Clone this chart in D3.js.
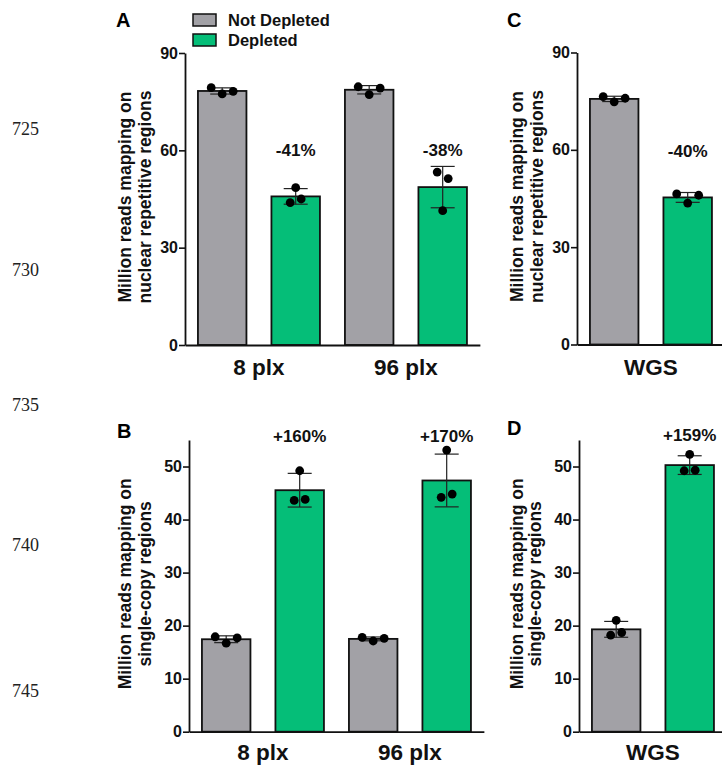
<!DOCTYPE html>
<html>
<head>
<meta charset="utf-8">
<script src="https://cdn.jsdelivr.net/npm/d3@7"></script>
<style>
html,body{margin:0;padding:0;background:#fff;}
svg{display:block;}
text{font-family:"Liberation Sans",Arial,sans-serif;}
</style>
</head>
<body>
<script>
// ---------------- data ----------------
const groupsAB = ["8 plx", "96 plx"];
const groupsCD = ["WGS"];
const seriesNames = ["Not Depleted", "Depleted"];
const seriesColors = ["#a2a1a6", "#05be78"];

// replicate values (million reads), listed left-to-right as drawn
const repNucAB_notDepleted = [[79.3, 77.4, 78.2], [79.6, 77.2, 79.2]];
const repNucAB_depleted    = [[48.5, 43.9, 45.0], [53.3, 51.3, 41.4]];
const repSingleAB_notDepleted = [[17.9, 16.7, 17.7], [17.8, 17.1, 17.6]];
const repSingleAB_depleted    = [[49.2, 43.6, 43.8], [53.1, 44.2, 44.8]];
const repNucCD_notDepleted = [[76.4, 74.8, 75.9]];
const repNucCD_depleted    = [[46.4, 43.6, 46.0]];
const repSingleCD_notDepleted = [[21.0, 18.2, 18.7]];
const repSingleCD_depleted    = [[52.3, 49.2, 49.3]];

const pctNucAB = ["-41%", "-38%"];
const pctSingleAB = ["+160%", "+170%"];
const pctNucCD = ["-40%"];
const pctSingleCD = ["+159%"];

const ticksNuc = [0, 30, 60, 90];
const ticksSingle = [0, 10, 20, 30, 40, 50];
const domainNuc = [0, 90];
const domainSingle = [0, 55];

const titleNuc = ["Million reads mapping on", "nuclear repetitive regions"];
const titleSingle = ["Million reads mapping on", "single-copy regions"];
const lineNumbers = ["725", "730", "735", "740", "745"];

// ---------------- drawing ----------------
const W = 722, H = 768;
const svg = d3.select("body").append("svg").attr("width", W).attr("height", H);

// manuscript line numbers
const lnY = [135, 276, 411, 551, 697];
svg.selectAll("text.ln").data(lineNumbers).join("text")
  .attr("class", "ln")
  .attr("x", 12).attr("y", (d, i) => lnY[i])
  .style("font-family", "'Liberation Serif','Times New Roman',serif")
  .style("font-size", "18px").attr("fill", "#222")
  .text(d => d);

function panel(cfg) {
  const g = svg.append("g");
  const n = cfg.groups.length;
  const step = 147;
  const y = d3.scaleLinear().domain(cfg.domain).range(cfg.yRange);
  const x0 = d3.scaleBand().domain(cfg.groups)
    .range([cfg.axisX, cfg.axisX + step * (n - 0.17 + 0.176)])
    .paddingInner(0.17).paddingOuter(0.088);
  const x1 = d3.scaleBand().domain(seriesNames).range([0, x0.bandwidth()]).paddingInner(0.34);

  const reps = [cfg.repNot, cfg.repDep];
  const bars = [];
  cfg.groups.forEach((grp, gi) => {
    seriesNames.forEach((s, si) => {
      const vals = reps[si][gi];
      bars.push({grp, s, si, vals, mean: d3.mean(vals), sd: d3.deviation(vals)});
    });
  });

  // bars
  g.selectAll("rect.bar").data(bars).join("rect")
    .attr("x", d => x0(d.grp) + x1(d.s))
    .attr("y", d => y(d.mean))
    .attr("width", x1.bandwidth())
    .attr("height", d => y(0) - y(d.mean))
    .attr("fill", d => seriesColors[d.si])
    .attr("stroke", "#111").attr("stroke-width", 1.8);

  // error bars (mean ± SD)
  const cx = d => x0(d.grp) + x1(d.s) + x1.bandwidth() / 2;
  const eb = g.selectAll("g.eb").data(bars).join("g").attr("stroke", "#222").attr("stroke-width", 1.2);
  eb.append("line").attr("x1", cx).attr("x2", cx)
    .attr("y1", d => y(d.mean - d.sd)).attr("y2", d => y(d.mean + d.sd));
  eb.append("line").attr("x1", d => cx(d) - 12).attr("x2", d => cx(d) + 12)
    .attr("y1", d => y(d.mean + d.sd)).attr("y2", d => y(d.mean + d.sd));
  eb.append("line").attr("x1", d => cx(d) - 12).attr("x2", d => cx(d) + 12)
    .attr("y1", d => y(d.mean - d.sd)).attr("y2", d => y(d.mean - d.sd));

  // scatter points, spread horizontally where they would overlap
  const pts = [];
  bars.forEach(b => {
    const py = b.vals.map(v => y(v));
    const parent = b.vals.map((v, i) => i);
    const find = i => parent[i] === i ? i : (parent[i] = find(parent[i]));
    for (let i = 0; i < py.length; i++)
      for (let j = i + 1; j < py.length; j++)
        if (Math.abs(py[i] - py[j]) < 9.5) parent[find(i)] = find(j);
    const clusters = d3.group(b.vals.map((v, i) => i), i => find(i));
    clusters.forEach(members => {
      const k = members.length;
      members.forEach((i, m) => {
        pts.push({x: cx(b) + (m - (k - 1) / 2) * 11, y: py[i]});
      });
    });
  });
  g.selectAll("circle.pt").data(pts).join("circle")
    .attr("cx", d => d.x).attr("cy", d => d.y).attr("r", 4.4).attr("fill", "#000");

  // y axis
  const yAxis = d3.axisLeft(y).tickValues(cfg.ticks).tickSize(6).tickPadding(1).tickSizeOuter(0);
  const ya = g.append("g").attr("transform", `translate(${cfg.axisX},0)`).call(yAxis);
  ya.select(".domain").attr("stroke", "#111").attr("stroke-width", 1.8);
  ya.selectAll(".tick line").attr("stroke", "#111").attr("stroke-width", 1.6);
  ya.selectAll(".tick text").style("font-size", "16px").style("font-weight", "bold")
    .attr("fill", "#111").style("font-family", "'Liberation Sans',Arial,sans-serif");

  // x axis (baseline only)
  const xa = g.append("g").attr("transform", `translate(0,${y(0)})`)
    .call(d3.axisBottom(x0).tickSize(0).tickSizeOuter(0).tickFormat(""));
  xa.select(".domain").attr("stroke", "#111").attr("stroke-width", 1.8);
  g.selectAll("text.xl").data(cfg.groups).join("text")
    .attr("x", d => x0(d) + x0.bandwidth() / 2).attr("y", cfg.labelY)
    .attr("text-anchor", "middle").style("font-size", "22.5px").style("font-weight", "bold")
    .attr("fill", "#111").text(d => d);

  // percent labels above depleted bars
  g.selectAll("text.pct").data(cfg.groups).join("text")
    .attr("x", d => x0(d) + x1(seriesNames[1]) + x1.bandwidth() / 2).attr("y", cfg.pctY)
    .attr("text-anchor", "middle").style("font-size", "17px").style("font-weight", "bold")
    .attr("fill", "#111").text((d, i) => cfg.pct[i]);

  // y title
  const cy = (cfg.yRange[0] + cfg.yRange[1]) / 2 - 2;
  cfg.title.forEach((t, i) => {
    g.append("text").attr("transform", `translate(${cfg.titleX[i]},${cy}) rotate(-90)`)
      .attr("text-anchor", "middle").attr("dy", "0.36em")
      .style("font-size", "17.5px").style("font-weight", "bold").attr("fill", "#111").text(t);
  });

  // panel letter
  g.append("text").attr("x", cfg.letterPos[0]).attr("y", cfg.letterPos[1])
    .style("font-size", "20px").style("font-weight", "bold").attr("fill", "#000").text(cfg.letter);
}

panel({groups: groupsAB, repNot: repNucAB_notDepleted, repDep: repNucAB_depleted,
  domain: domainNuc, ticks: ticksNuc, yRange: [345, 53], axisX: 185,
  pct: pctNucAB, pctY: 156, labelY: 375, title: titleNuc, titleX: [125, 145],
  letter: "A", letterPos: [116, 27]});
panel({groups: groupsAB, repNot: repSingleAB_notDepleted, repDep: repSingleAB_depleted,
  domain: domainSingle, ticks: ticksSingle, yRange: [731.7, 440], axisX: 189,
  pct: pctSingleAB, pctY: 442, labelY: 760, title: titleSingle, titleX: [125, 145],
  letter: "B", letterPos: [117, 438]});
panel({groups: groupsCD, repNot: repNucCD_notDepleted, repDep: repNucCD_depleted,
  domain: domainNuc, ticks: ticksNuc, yRange: [344.5, 52.5], axisX: 577,
  pct: pctNucCD, pctY: 157, labelY: 375, title: titleNuc, titleX: [517, 537],
  letter: "C", letterPos: [507, 27]});
panel({groups: groupsCD, repNot: repSingleCD_notDepleted, repDep: repSingleCD_depleted,
  domain: domainSingle, ticks: ticksSingle, yRange: [731.7, 440], axisX: 579,
  pct: pctSingleCD, pctY: 441, labelY: 760, title: titleSingle, titleX: [517, 535],
  letter: "D", letterPos: [507, 435]});

// legend (panel A)
const leg = svg.append("g");
const legY = [14, 34];
leg.selectAll("rect").data(seriesNames).join("rect")
  .attr("x", 193).attr("y", (d, i) => legY[i]).attr("width", 23).attr("height", 12)
  .attr("fill", (d, i) => seriesColors[i]).attr("stroke", "#111").attr("stroke-width", 1.5);
leg.selectAll("text").data(seriesNames).join("text")
  .attr("x", 228).attr("y", (d, i) => legY[i] + 12)
  .style("font-size", "16.5px").style("font-weight", "bold").attr("fill", "#111")
  .text(d => d);
</script>
</body>
</html>
